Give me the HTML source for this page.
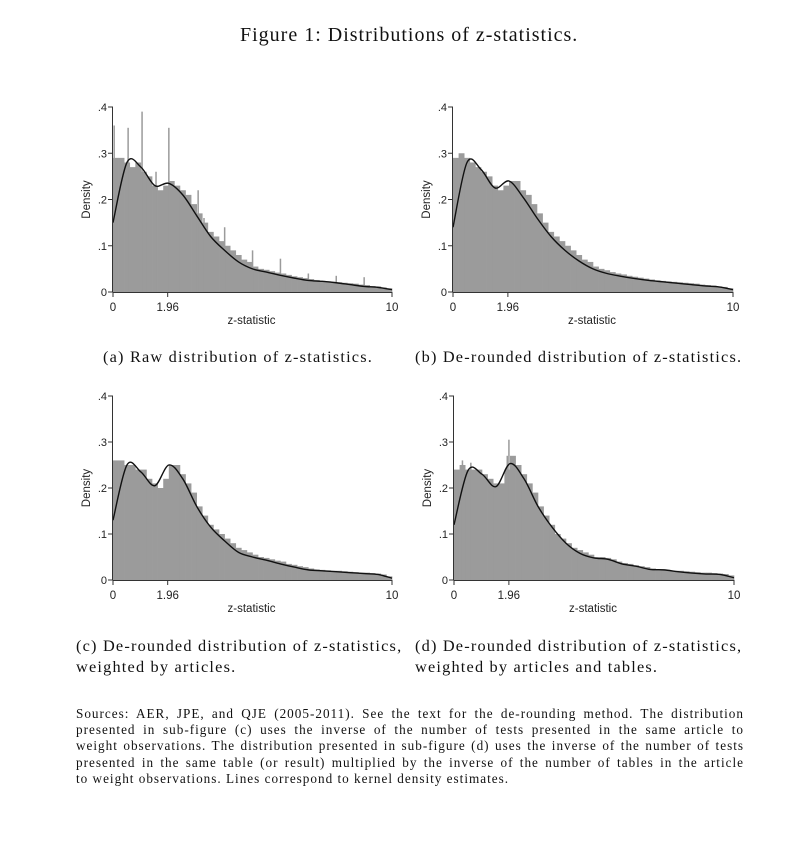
<!DOCTYPE html>
<html><head><meta charset="utf-8"><style>
body{margin:0;background:#fff;width:802px;height:843px;overflow:hidden;position:relative;font-family:"Liberation Serif",serif;color:#111}
.t{position:absolute;white-space:nowrap}
#src{position:absolute;left:76px;top:706px;width:668px;font-size:13.2px;line-height:16.2px;letter-spacing:1px}
#src div{text-align:justify;text-align-last:justify;white-space:nowrap}
#src div.last{text-align-last:left}
</style></head><body>
<div class="t" style="left:240px;top:24px;font-size:20px;letter-spacing:1px">Figure 1: Distributions of z-statistics.</div>
<div class="t" style="left:103px;top:347px;font-size:16.3px;letter-spacing:1.2px">(a) Raw distribution of z-statistics.</div>
<div class="t" style="left:415px;top:347px;font-size:16.3px;letter-spacing:1.2px">(b) De-rounded distribution of z-statistics.</div>
<div class="t" style="left:76px;top:635px;font-size:16.3px;line-height:21px;letter-spacing:1.2px">(c) De-rounded distribution of z-statistics,<br>weighted by articles.</div>
<div class="t" style="left:415px;top:635px;font-size:16.3px;line-height:21px;letter-spacing:1.2px">(d) De-rounded distribution of z-statistics,<br>weighted by articles and tables.</div>
<div id="src">
<div>Sources: AER, JPE, and QJE (2005-2011). See the text for the de-rounding method. The distribution</div>
<div>presented in sub-figure (c) uses the inverse of the number of tests presented in the same article to</div>
<div>weight observations. The distribution presented in sub-figure (d) uses the inverse of the number of tests</div>
<div>presented in the same table (or result) multiplied by the inverse of the number of tables in the article</div>
<div class="last">to weight observations. Lines correspond to kernel density estimates.</div>
</div>
<svg id="svg" width="802" height="843" style="position:absolute;left:0;top:0"></svg>
<script>
const curveX=[0,0.5,1,1.5,2,2.5,3,3.5,4,4.5,5,5.5,6,6.5,7,7.5,8,8.5,9,9.5,10];
const curveA=[.15,.28,.27,.23,.235,.21,.165,.12,.09,.065,.05,.043,.036,.03,.025,.023,.02,.016,.012,.01,.005];
const curveB=[.14,.28,.265,.225,.24,.205,.16,.12,.09,.067,.05,.04,.034,.029,.025,.022,.019,.016,.013,.011,.005];
const curveC=[.13,.25,.235,.205,.25,.22,.16,.115,.085,.06,.05,.043,.035,.028,.022,.02,.018,.016,.014,.012,.004];
const curveD=[.12,.238,.23,.203,.253,.22,.16,.115,.08,.058,.048,.045,.035,.03,.023,.022,.018,.015,.013,.012,.005];
const histA=[.29,.29,.28,.27,.28,.26,.25,.23,.22,.23,.24,.23,.22,.21,.19,.17,.15,.13,.12,.11,.10,.09,.08,.07,.065,.055,.05,.048,.045,.042,.04,.037,.034,.032,.03,.028,.026,.024,.023,.022,.021,.02,.019,.018,.016,.015,.013,.012,.01,.008];
const histB=[.29,.30,.29,.28,.27,.26,.25,.23,.22,.23,.24,.24,.22,.21,.19,.17,.15,.13,.12,.11,.10,.09,.08,.07,.065,.055,.05,.047,.043,.04,.038,.035,.033,.031,.029,.027,.025,.024,.023,.022,.021,.02,.019,.018,.016,.015,.014,.012,.011,.008];
const histC=[.26,.26,.25,.25,.24,.24,.22,.21,.20,.22,.25,.25,.23,.21,.19,.16,.14,.12,.11,.10,.09,.08,.07,.065,.06,.055,.05,.048,.045,.042,.04,.035,.033,.03,.028,.025,.023,.022,.021,.02,.02,.019,.018,.017,.016,.016,.015,.014,.012,.008];
const histD=[.24,.25,.24,.24,.24,.23,.22,.21,.21,.24,.27,.25,.23,.21,.19,.16,.14,.12,.10,.09,.08,.07,.065,.06,.055,.05,.05,.048,.045,.04,.037,.035,.032,.03,.028,.025,.023,.022,.021,.02,.02,.019,.018,.017,.016,.016,.015,.014,.013,.01];
const spikeXA=[0.04,0.54,1.04,1.54,2.0,2.58,3.05,3.26,4.0,5.0,6.0,7.0,8.0,9.0];
const spikeYA=[.36,.355,.39,.26,.355,.21,.22,.16,.14,.09,.072,.04,.035,.032];
const spikeXD=[1.96,1.9,0.3,0.6];
const spikeYD=[.305,.27,.26,.255];
const yTicks=[0,.1,.2,.3,.4];
const yTickLabels=["0",".1",".2",".3",".4"];
const xTicks=[0,1.96,10];
const xTickLabels=["0","1.96","10"];
const NS="http://www.w3.org/2000/svg";
const svg=document.getElementById('svg');
function mk(tag,attrs,parent){const e=document.createElementNS(NS,tag);for(const k in attrs)e.setAttribute(k,attrs[k]);(parent||svg).appendChild(e);return e;}
const panels=[
 {id:'a',x0:113,x1:392,y0:292,y4:107,curve:curveA,hist:histA,sx:spikeXA,sy:spikeYA},
 {id:'b',x0:453,x1:733,y0:292,y4:107,curve:curveB,hist:histB,sx:[],sy:[]},
 {id:'c',x0:113,x1:392,y0:580,y4:396,curve:curveC,hist:histC,sx:[],sy:[]},
 {id:'d',x0:454,x1:734,y0:580,y4:396,curve:curveD,hist:histD,sx:spikeXD,sy:spikeYD}];
panels.forEach(p=>{
 const g=mk('g',{});
 
 
 const X=v=>p.x0+(p.x1-p.x0)*v/10, Y=v=>p.y0-(p.y0-p.y4)*v/0.4;
 const bw=10/p.hist.length;
 p.hist.forEach((h,i)=>{const r=mk('rect',{x:X(i*bw),y:Y(h),width:X(bw)-X(0)+0.3,height:p.y0-Y(h),fill:'#9b9b9b'},g);
  
  });
 p.sx.forEach((sx,i)=>{const r=mk('rect',{x:X(sx)-0.7,y:Y(p.sy[i]),width:1.5,height:p.y0-Y(p.sy[i]),fill:'#9b9b9b'},g);
  
  });
 const pts=p.curve.map((v,i)=>[X(curveX[i]),Y(v)]);
 let d='M'+pts[0][0]+','+pts[0][1];
 for(let i=0;i<pts.length-1;i++){const p0=pts[Math.max(0,i-1)],p1=pts[i],p2=pts[i+1],p3=pts[Math.min(pts.length-1,i+2)];
  d+=' C'+(p1[0]+(p2[0]-p0[0])/6)+','+(p1[1]+(p2[1]-p0[1])/6)+' '+(p2[0]-(p3[0]-p1[0])/6)+','+(p2[1]-(p3[1]-p1[1])/6)+' '+p2[0]+','+p2[1];}
 const c=mk('path',{d:d,fill:'none',stroke:'#111',"stroke-width":1.4},g);
 
 
 mk('line',{x1:p.x0-0.5,y1:Y(0.4),x2:p.x0-0.5,y2:p.y0+0.5,stroke:'#333','stroke-width':1},g);
 mk('line',{x1:p.x0-0.5,y1:p.y0+0.5,x2:p.x1,y2:p.y0+0.5,stroke:'#333','stroke-width':1},g);
 yTicks.forEach((t,i)=>{const y=Y(t);mk('line',{x1:p.x0-5,y1:y,x2:p.x0,y2:y,stroke:'#333'},g);
  const tx=mk('text',{x:p.x0-6,y:y+4,'font-family':'Liberation Sans, sans-serif','font-size':11,'text-anchor':'end',fill:'#222'},g);
  tx.textContent=yTickLabels[i];
  
  });
 xTicks.forEach((t,i)=>{const x=X(t);mk('line',{x1:x,y1:p.y0,x2:x,y2:p.y0+5,stroke:'#333'},g);
  const tx=mk('text',{x:x,y:p.y0+19,'font-family':'Liberation Sans, sans-serif','font-size':11.5,'text-anchor':'middle',fill:'#222'},g);
  tx.textContent=xTickLabels[i];
  
  });
 const xt=mk('text',{x:(p.x0+p.x1)/2-1,y:p.y0+32,'font-family':'Liberation Sans, sans-serif','font-size':11.5,'text-anchor':'middle',fill:'#222'},g);
 xt.textContent='z-statistic';
 
 
 const yc=(p.y0+Y(0.4))/2, yx=p.x0-23;
 const yt=mk('text',{x:yx,y:yc,'font-family':'Liberation Sans, sans-serif','font-size':11.5,'text-anchor':'middle',transform:'rotate(-90 '+yx+' '+yc+')',fill:'#222'},g);
 yt.textContent='Density';
 
 
});
</script>
</body></html>
